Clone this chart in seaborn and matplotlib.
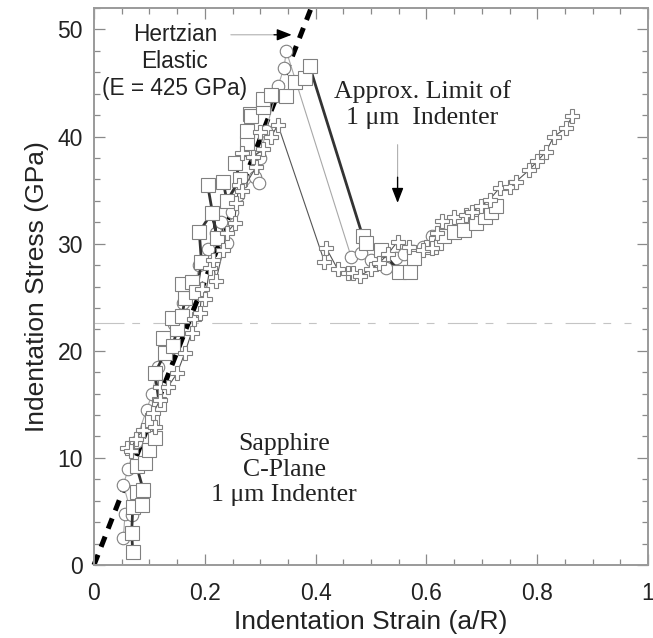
import numpy as np
import pandas as pd
from matplotlib import pyplot as plt
from matplotlib.ticker import MultipleLocator
import seaborn as sns

# squares (thick dark line)
sq_x = [0.070, 0.068, 0.070, 0.078, 0.086, 0.089, 0.077, 0.092, 0.100, 0.110, 0.105, 0.118,
        0.110, 0.128, 0.125, 0.142, 0.150, 0.140, 0.159, 0.164, 0.159, 0.177, 0.185, 0.194,
        0.190, 0.213, 0.222, 0.205, 0.233, 0.240, 0.263, 0.255, 0.276, 0.277, 0.281, 0.284,
        0.305, 0.305, 0.320, 0.347, 0.362, 0.380, 0.389,
        0.485, 0.491, 0.518, 0.551, 0.571, 0.578, 0.608, 0.617, 0.632, 0.650, 0.668, 0.690,
        0.705, 0.716, 0.725]
sq_y = [1.2, 3.0, 5.4, 6.8, 5.6, 7.0, 9.2, 9.5, 10.7, 11.9, 13.5, 15.0,
        17.9, 19.8, 21.2, 20.4, 22.0, 23.1, 23.2, 24.9, 26.2, 26.4, 25.5, 28.3,
        31.1, 32.9, 30.5, 35.5, 35.8, 34.0, 36.0, 37.5, 39.4, 40.5, 42.1, 41.9,
        42.8, 43.5, 43.9, 43.8, 45.1, 45.5, 46.6,
        30.7, 30.1, 29.4, 27.4, 27.4, 28.7, 29.7, 30.1, 30.7, 31.1, 31.3, 31.9,
        32.5, 33.0, 33.5]

# circles (thin light line)
ci_x = [0.053, 0.056, 0.068, 0.053, 0.062, 0.075, 0.095, 0.105, 0.115, 0.130, 0.145, 0.160,
        0.175, 0.180, 0.190, 0.205, 0.220, 0.230, 0.240, 0.249, 0.260, 0.290, 0.297, 0.300,
        0.310, 0.332, 0.343, 0.347,
        0.464, 0.482, 0.500, 0.527, 0.545, 0.560, 0.575, 0.593, 0.611, 0.625]
ci_y = [2.5, 4.8, 4.7, 7.5, 9.0, 11.5, 14.5, 16.0, 18.5, 20.5, 22.5, 24.5,
        26.0, 25.5, 28.0, 29.5, 31.0, 32.0, 30.1, 33.0, 34.5, 36.2, 35.7, 38.0,
        40.5, 44.7, 46.4, 48.0,
        28.8, 29.1, 28.5, 27.7, 28.7, 29.0, 29.3, 29.7, 30.7, 31.0]

# crosses (thin dark line)
cr_x = [0.059, 0.066, 0.075, 0.089, 0.110, 0.107, 0.119, 0.120, 0.133, 0.150, 0.164, 0.176,
        0.180, 0.191, 0.195, 0.200, 0.209, 0.215, 0.220, 0.233, 0.240, 0.254, 0.257, 0.262,
        0.267, 0.293, 0.267, 0.287, 0.305, 0.300, 0.320, 0.332,
        0.416, 0.419, 0.440, 0.458, 0.467, 0.480, 0.500, 0.515, 0.530, 0.548, 0.569, 0.593,
        0.610, 0.620, 0.629, 0.650, 0.672, 0.683, 0.698, 0.714, 0.732, 0.750, 0.762, 0.786,
        0.800, 0.816, 0.830, 0.852, 0.863]
cr_y = [10.9, 10.6, 11.8, 12.6, 12.9, 14.2, 15.4, 16.6, 16.6, 17.9, 19.8, 21.7,
        23.0, 23.5, 25.8, 24.8, 27.7, 28.5, 26.5, 29.4, 31.0, 31.9, 33.8, 35.5,
        34.9, 37.2, 38.5, 38.1, 38.8, 40.4, 40.0, 41.1,
        28.3, 29.6, 27.6, 27.3, 27.3, 27.0, 27.6, 28.2, 29.0, 30.2, 29.7, 29.4,
        29.6, 31.0, 32.1, 32.5, 32.7, 33.0, 33.5, 34.1, 35.2, 35.3, 35.8, 36.9,
        37.7, 38.6, 40.0, 40.8, 41.9]

# Hertzian elastic line (E = 425 GPa)
hz_x = [0.0, 0.392]
hz_y = [0.0, 52.0]

limit_y = 22.6

sns.set_style("ticks")
plt.rcParams['font.family'] = ['Liberation Sans', 'DejaVu Sans']
serif = ["Liberation Serif", "DejaVu Serif"]

fig = plt.figure(figsize=(6.53, 6.38), dpi=100)
ax = fig.add_axes([94 / 653, 73 / 638, 554 / 653, 557 / 638])

ax.axhline(limit_y, xmin=0, xmax=0.97, color="#c4c4c4", lw=0.8,
           linestyle=(0, (27, 7, 7, 12)), zorder=1)

ax.plot(hz_x, hz_y, color="black", lw=3.6, linestyle=(0, (2.2, 1.7)), zorder=2,
        clip_on=False)

edge = "#808080"
sns.lineplot(x=ci_x, y=ci_y, sort=False, estimator=None, ax=ax, color="#a8a8a8", lw=0.8,
             marker="o", markersize=9, markerfacecolor="white", markeredgecolor=edge,
             markeredgewidth=0.8, zorder=3)
sns.lineplot(x=sq_x, y=sq_y, sort=False, estimator=None, ax=ax, color="#333333", lw=2.0,
             marker="s", markersize=9.8, markerfacecolor="white", markeredgecolor=edge,
             markeredgewidth=0.8, zorder=4)
sns.lineplot(x=cr_x, y=cr_y, sort=False, estimator=None, ax=ax, color="#555555", lw=0.8,
             marker="P", markersize=10.5, markerfacecolor="white", markeredgecolor=edge,
             markeredgewidth=0.8, zorder=5)

ax.set_xlim(0, 1)
ax.set_ylim(0, 52)
ax.xaxis.set_minor_locator(MultipleLocator(0.05))
ax.yaxis.set_major_locator(MultipleLocator(10))
ax.yaxis.set_minor_locator(MultipleLocator(2))
ax.set_xticks([0, 0.2, 0.4, 0.6, 0.8, 1.0])
ax.set_xticklabels(["0", "0.2", "0.4", "0.6", "0.8", "1"])

ax.tick_params(which="both", direction="in", top=True, right=True, color="#8a8a8a",
               width=0.9, labelsize=16.5, labelcolor="#222222")
ax.tick_params(axis="x", which="major", length=8, pad=12)
ax.tick_params(axis="y", which="major", length=8, pad=8)
ax.tick_params(which="minor", length=4.5)
for s in ax.spines.values():
    s.set_color("#9a9a9a")
    s.set_linewidth(1.4)

ax.set_xlabel("Indentation Strain (a/R)", fontsize=19, color="#222222", labelpad=4)
ax.set_ylabel("Indentation Stress (GPa)", fontsize=19, color="#222222", labelpad=6)

ax.text(0.146, 47.0, "Hertzian\nElastic\n(E = 425 GPa)", ha="center", va="center",
        fontsize=16.3, color="#222222", linespacing=1.2)
ax.annotate("", xy=(0.33, 49.5), xytext=(0.242, 49.5),
            arrowprops=dict(arrowstyle="-", color="#b0b0b0", lw=0.8))
ax.annotate("", xy=(0.357, 49.5), xytext=(0.325, 49.5),
            arrowprops=dict(arrowstyle="-|>,head_length=0.9,head_width=0.35",
                            color="black", lw=1.0, shrinkA=0, shrinkB=0))

ax.text(0.593, 43.0, "Approx. Limit of\n1 \u03bcm  Indenter", ha="center", va="center",
        fontsize=18.5, family=serif, color="#222222", linespacing=1.22)
ax.annotate("", xy=(0.548, 35.9), xytext=(0.548, 39.5),
            arrowprops=dict(arrowstyle="-", color="#b0b0b0", lw=0.8))
ax.annotate("", xy=(0.548, 33.8), xytext=(0.548, 36.2),
            arrowprops=dict(arrowstyle="-|>,head_length=0.9,head_width=0.35",
                            color="black", lw=1.0, shrinkA=0, shrinkB=0))

ax.text(0.343, 8.9, "Sapphire\nC-Plane\n1 \u03bcm Indenter", ha="center", va="center",
        fontsize=18.5, family=serif, color="#222222", linespacing=1.2)

fig.savefig("out.png", dpi=100)
